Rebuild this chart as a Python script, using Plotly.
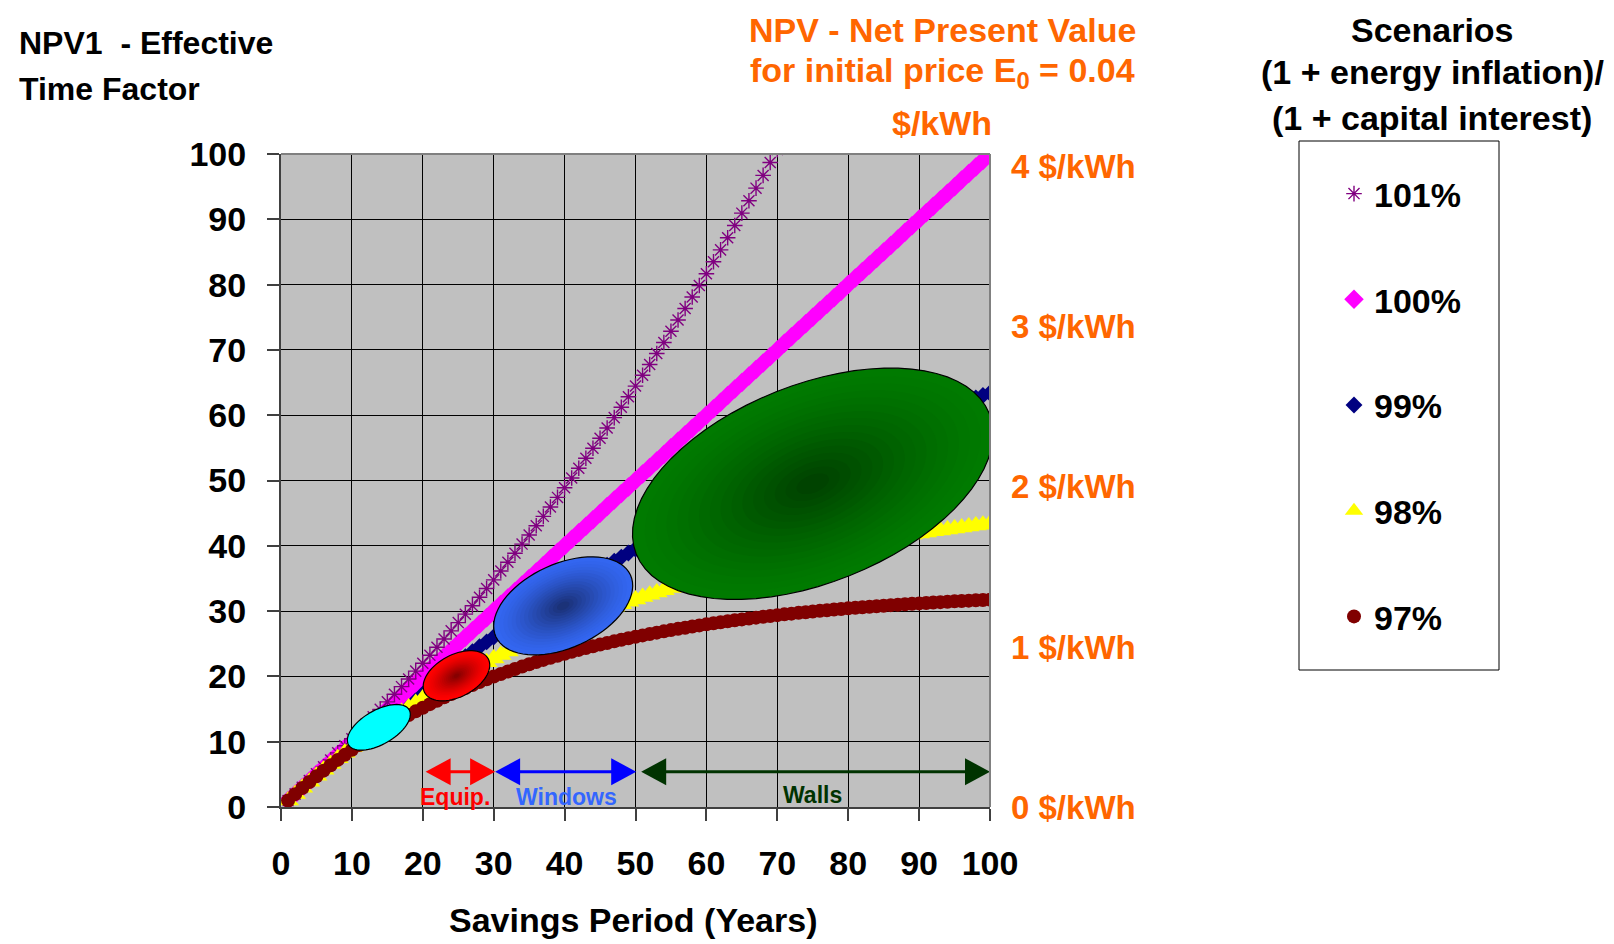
import math
import plotly.graph_objects as go

# ---------------- data ----------------
years = list(range(1, 101))
years_101 = list(range(1, 71))

npv_101 = [1.00, 2.01, 3.03, 4.06, 5.10, 6.15, 7.21, 8.29, 9.37, 10.46,
           11.57, 12.68, 13.81, 14.95, 16.10, 17.26, 18.43, 19.61, 20.81, 22.02,
           23.24, 24.47, 25.72, 26.97, 28.24, 29.53, 30.82, 32.13, 33.45, 34.78,
           36.13, 37.49, 38.87, 40.26, 41.66, 43.08, 44.51, 45.95, 47.41, 48.89,
           50.38, 51.88, 53.40, 54.93, 56.48, 58.05, 59.63, 61.22, 62.83, 64.46,
           66.11, 67.77, 69.45, 71.14, 72.85, 74.58, 76.33, 78.09, 79.87, 81.67,
           83.49, 85.32, 87.17, 89.05, 90.94, 92.85, 94.77, 96.72, 98.69, 100.68]

npv_100 = [1, 2, 3, 4, 5, 6, 7, 8, 9, 10,
           11, 12, 13, 14, 15, 16, 17, 18, 19, 20,
           21, 22, 23, 24, 25, 26, 27, 28, 29, 30,
           31, 32, 33, 34, 35, 36, 37, 38, 39, 40,
           41, 42, 43, 44, 45, 46, 47, 48, 49, 50,
           51, 52, 53, 54, 55, 56, 57, 58, 59, 60,
           61, 62, 63, 64, 65, 66, 67, 68, 69, 70,
           71, 72, 73, 74, 75, 76, 77, 78, 79, 80,
           81, 82, 83, 84, 85, 86, 87, 88, 89, 90,
           91, 92, 93, 94, 95, 96, 97, 98, 99, 100]

npv_99 = [1.00, 1.99, 2.97, 3.94, 4.90, 5.85, 6.79, 7.73, 8.65, 9.56,
          10.47, 11.36, 12.25, 13.13, 13.99, 14.85, 15.71, 16.55, 17.38, 18.21,
          19.03, 19.84, 20.64, 21.43, 22.22, 23.00, 23.77, 24.53, 25.28, 26.03,
          26.77, 27.50, 28.23, 28.94, 29.66, 30.36, 31.06, 31.74, 32.43, 33.10,
          33.77, 34.43, 35.09, 35.74, 36.38, 37.02, 37.65, 38.27, 38.89, 39.50,
          40.10, 40.70, 41.30, 41.88, 42.46, 43.04, 43.61, 44.17, 44.73, 45.28,
          45.83, 46.37, 46.91, 47.44, 47.97, 48.49, 49.00, 49.51, 50.02, 50.52,
          51.01, 51.50, 51.99, 52.47, 52.94, 53.41, 53.88, 54.34, 54.80, 55.25,
          55.70, 56.14, 56.58, 57.01, 57.44, 57.87, 58.29, 58.71, 59.12, 59.53,
          59.93, 60.33, 60.73, 61.12, 61.51, 61.90, 62.28, 62.65, 63.03, 63.40]

npv_98 = [1.00, 1.98, 2.94, 3.88, 4.80, 5.71, 6.59, 7.46, 8.31, 9.15,
          9.96, 10.76, 11.55, 12.32, 13.07, 13.81, 14.53, 15.24, 15.94, 16.62,
          17.29, 17.94, 18.58, 19.21, 19.83, 20.43, 21.02, 21.60, 22.17, 22.73,
          23.27, 23.81, 24.33, 24.84, 25.35, 25.84, 26.32, 26.80, 27.26, 27.71,
          28.16, 28.60, 29.03, 29.44, 29.86, 30.26, 30.65, 31.04, 31.42, 31.79,
          32.16, 32.51, 32.86, 33.21, 33.54, 33.87, 34.19, 34.51, 34.82, 35.12,
          35.42, 35.71, 36.00, 36.28, 36.55, 36.82, 37.08, 37.34, 37.60, 37.84,
          38.09, 38.33, 38.56, 38.79, 39.01, 39.23, 39.45, 39.66, 39.86, 40.07,
          40.27, 40.46, 40.65, 40.84, 41.02, 41.20, 41.38, 41.55, 41.72, 41.88,
          42.05, 42.21, 42.36, 42.51, 42.66, 42.81, 42.95, 43.10, 43.23, 43.37]

npv_97 = [1.00, 1.97, 2.91, 3.82, 4.71, 5.57, 6.40, 7.21, 7.99, 8.75,
          9.49, 10.21, 10.90, 11.57, 12.22, 12.86, 13.47, 14.07, 14.65, 15.21,
          15.75, 16.28, 16.79, 17.29, 17.77, 18.23, 18.69, 19.13, 19.55, 19.97,
          20.37, 20.76, 21.13, 21.50, 21.85, 22.20, 22.53, 22.86, 23.17, 23.48,
          23.77, 24.06, 24.34, 24.61, 24.87, 25.12, 25.37, 25.61, 25.84, 26.06,
          26.28, 26.49, 26.70, 26.90, 27.09, 27.28, 27.46, 27.64, 27.81, 27.97,
          28.13, 28.29, 28.44, 28.59, 28.73, 28.87, 29.00, 29.13, 29.26, 29.38,
          29.50, 29.61, 29.73, 29.83, 29.94, 30.04, 30.14, 30.24, 30.33, 30.42,
          30.51, 30.59, 30.67, 30.75, 30.83, 30.91, 30.98, 31.05, 31.12, 31.18,
          31.25, 31.31, 31.37, 31.43, 31.49, 31.54, 31.60, 31.65, 31.70, 31.75]

x_ticks = [0, 10, 20, 30, 40, 50, 60, 70, 80, 90, 100]
y_ticks = [0, 10, 20, 30, 40, 50, 60, 70, 80, 90, 100]
price_ticks = [0, 1, 2, 3, 4]
price_labels = ["0 $/kWh", "1 $/kWh", "2 $/kWh", "3 $/kWh", "4 $/kWh"]

# measure groups (ellipse centres, in data units)
group_names = ["small", "Equip.", "Windows", "Walls"]
group_centre_x = [13.8, 24.75, 39.8, 75.0]
group_centre_y = [12.2, 20.1, 30.8, 49.5]

# measure ranges shown with double arrows
range_labels = ["Equip.", "Windows", "Walls"]
range_start = [20.4, 30.2, 50.8]
range_end = [30.2, 50.1, 100.0]

# ---------------- geometry / styling ----------------
OFF = 8                      # page margin of the html body
W, H = 1614 - OFF, 944 - OFF
L, R, T, B = 281, 990, 154, 807      # plot area in page pixels
KX = (R - L) / 100.0   # px per x unit
KY = (B - T) / 100.0   # px per y unit
FONT = "Liberation Sans, Arial, sans-serif"
ORANGE = "#FF6600"


def px_x(px):
    return (px - L) / (R - L)


def px_y(py):
    return (B - py) / (B - T)


def ellipse_path(cx, cy, a, b, theta_deg, scale=1.0, n=72):
    th = math.radians(theta_deg)
    pts = []
    for i in range(n):
        t = 2 * math.pi * i / n
        dx = scale * (a * math.cos(t) * math.cos(th) - b * math.sin(t) * math.sin(th))
        dy = scale * (a * math.cos(t) * math.sin(th) + b * math.sin(t) * math.cos(th))
        pts.append((cx + dx / KX, cy + dy / KY))
    return "M " + " L ".join(f"{x:.4f},{y:.4f}" for x, y in pts) + " Z"


def mix(c1, c2, f):
    return "rgb(%d,%d,%d)" % tuple(round(c1[k] + (c2[k] - c1[k]) * f) for k in range(3))


fig = go.Figure()

series = [
    ("99%", years, npv_99, dict(symbol="diamond", size=13, color="#000080"), 3),
    ("100%", years, npv_100, dict(symbol="diamond", size=15, color="#FF00FF"), 2),
    ("101%", years_101, npv_101,
     dict(symbol="asterisk-open", size=13, color="#800080", line=dict(color="#800080", width=1.4)), 1),
    ("98%", years, npv_98, dict(symbol="triangle-up", size=19, color="#FFFF00"), 4),
    ("97%", years, npv_97, dict(symbol="circle", size=14, color="#800000"), 5),
]
for name, xs, ys, mk, rank in series:
    fig.add_trace(go.Scatter(
        x=xs, y=ys, name=name, mode="markers", marker=mk,
        legendgroup=name, legendrank=rank, cliponaxis=True,
    ))

# invisible trace to activate the right-hand price axis
fig.add_trace(go.Scatter(x=[None], y=[None], yaxis="y2", showlegend=False, hoverinfo="skip"))

shapes = []
ell_specs = [
    # a, b, theta, edge colour, centre colour
    (35, 17, 30, (0, 255, 255), (0, 255, 255)),
    (36, 21, 28, (255, 0, 0), (125, 0, 0)),
    (74, 42, 24.6, (51, 102, 240), (25, 45, 110)),
    (190, 99, 21.7, (0, 122, 0), (0, 62, 0)),
]
for (cx, cy, spec) in zip(group_centre_x, group_centre_y, ell_specs):
    a, b, th, c_edge, c_mid = spec
    shapes.append(dict(type="path", xref="x", yref="y",
                       path=ellipse_path(cx, cy, a, b, th),
                       fillcolor=mix(c_edge, c_edge, 0), line=dict(color="black", width=1.2),
                       layer="above"))
    if c_edge != c_mid:
        nl = 16
        for i in range(1, nl):
            s = 1 - i / nl * 0.97
            f = (i / nl) ** 1.3
            shapes.append(dict(type="path", xref="x", yref="y",
                               path=ellipse_path(cx, cy, a - 1.5, b - 1.5, th, scale=s),
                               fillcolor=mix(c_edge, c_mid, f), line=dict(width=0),
                               layer="above"))

# double arrows
arrow_y = 5.4
head_len = 25 / KX
head_half = 13.5 / KY
arrow_colors = ["#FF0000", "#0000FF", "#003300"]
label_colors = ["#FF0000", "#3366FF", "#003300"]
for x0, x1, col in zip(range_start, range_end, arrow_colors):
    shapes.append(dict(type="line", xref="x", yref="y", x0=x0 + head_len * 0.8, x1=x1 - head_len * 0.8,
                       y0=arrow_y, y1=arrow_y, line=dict(color=col, width=3), layer="above"))
    shapes.append(dict(type="path", xref="x", yref="y",
                       path=f"M {x0},{arrow_y} L {x0 + head_len},{arrow_y + head_half} L {x0 + head_len},{arrow_y - head_half} Z",
                       fillcolor=col, line=dict(width=0), layer="above"))
    shapes.append(dict(type="path", xref="x", yref="y",
                       path=f"M {x1},{arrow_y} L {x1 - head_len},{arrow_y + head_half} L {x1 - head_len},{arrow_y - head_half} Z",
                       fillcolor=col, line=dict(width=0), layer="above"))

# legend frame
shapes.append(dict(type="rect", xref="paper", yref="paper",
                   x0=px_x(1299), x1=px_x(1499), y0=px_y(670), y1=px_y(141),
                   line=dict(color="black", width=1), fillcolor="white", layer="below"))
# grey frame on top / right of the plot
shapes.append(dict(type="line", xref="paper", yref="paper", x0=0, x1=1, y0=1, y1=1,
                   line=dict(color="#808080", width=2), layer="above"))
shapes.append(dict(type="line", xref="paper", yref="paper", x0=1, x1=1, y0=0, y1=1,
                   line=dict(color="#808080", width=2), layer="above"))

annotations = []
label_x = [24.6, 40.2, 74.9]
label_y = [1.5, 1.5, 1.8]
for txt, lx, ly, col in zip(range_labels, label_x, label_y, label_colors):
    annotations.append(dict(x=lx, y=ly, xref="x", yref="y", text=txt, showarrow=False,
                            font=dict(family=FONT, size=23, color=col, weight="bold")))


def text_at(txt, x, y, size, color, xanchor="center"):
    annotations.append(dict(x=px_x(x), y=px_y(y), xref="paper", yref="paper", xanchor=xanchor,
                            yanchor="middle", showarrow=False, text=txt, borderpad=0,
                            font=dict(family=FONT, size=size, color=color, weight="bold")))


# titles (page pixel positions)
text_at("NPV1  - Effective", 18, 43, 32, "black", "left")
text_at("Time Factor", 18, 89, 32, "black", "left")
text_at("NPV - Net Present Value", 942, 30, 34, ORANGE)
text_at("for initial price E<sub>0</sub> = 0.04", 942, 73, 34, ORANGE)
text_at("$/kWh", 942, 123, 34, ORANGE)
text_at("Scenarios", 1432, 30, 34, "black")
text_at("(1 + energy inflation)/", 1432, 72, 34, "black")
text_at("(1 + capital interest)", 1432, 118, 34, "black")
text_at("Savings Period (Years)", 633, 920, 34, "black")

fig.update_layout(
    width=W, height=H,
    margin=dict(l=L - OFF, r=W - (R - OFF), t=T - OFF, b=H - (B - OFF), autoexpand=False),
    paper_bgcolor="white", plot_bgcolor="#C0C0C0",
    font=dict(family=FONT, size=32, color="black", weight="bold"),
    xaxis=dict(range=[0, 100], tickvals=x_ticks, showgrid=True, gridcolor="black", gridwidth=1.4,
               zeroline=False, showline=True, linecolor="#404040", linewidth=2, mirror=False,
               ticks="outside", ticklen=12, tickcolor="#404040", tickwidth=1.5,
               ticklabelstandoff=13,
               tickfont=dict(family=FONT, size=34, color="black", weight="bold")),
    yaxis=dict(range=[0, 100], tickvals=y_ticks, showgrid=True, gridcolor="black", gridwidth=1.4,
               zeroline=False, showline=True, linecolor="#404040", linewidth=2,
               ticks="outside", ticklen=12, tickcolor="#404040", tickwidth=1.5,
               ticklabelstandoff=14,
               tickfont=dict(family=FONT, size=34, color="black", weight="bold")),
    yaxis2=dict(range=[0, 4.08], overlaying="y", side="right", tickvals=price_ticks, ticktext=price_labels,
                showgrid=False, zeroline=False, showline=False, ticks="", ticklabelstandoff=20,
                tickfont=dict(family=FONT, size=33, color=ORANGE, weight="bold")),
    legend=dict(x=px_x(1298), y=px_y(165), xanchor="left", yanchor="top",
                borderwidth=0, bgcolor="rgba(0,0,0,0)",
                traceorder="grouped", tracegroupgap=58.5, indentation=36,
                maxheight=900,
                font=dict(family=FONT, size=34, color="black", weight="bold")),
    shapes=shapes,
    annotations=annotations,
    showlegend=True,
)

fig.write_html("out.html")
